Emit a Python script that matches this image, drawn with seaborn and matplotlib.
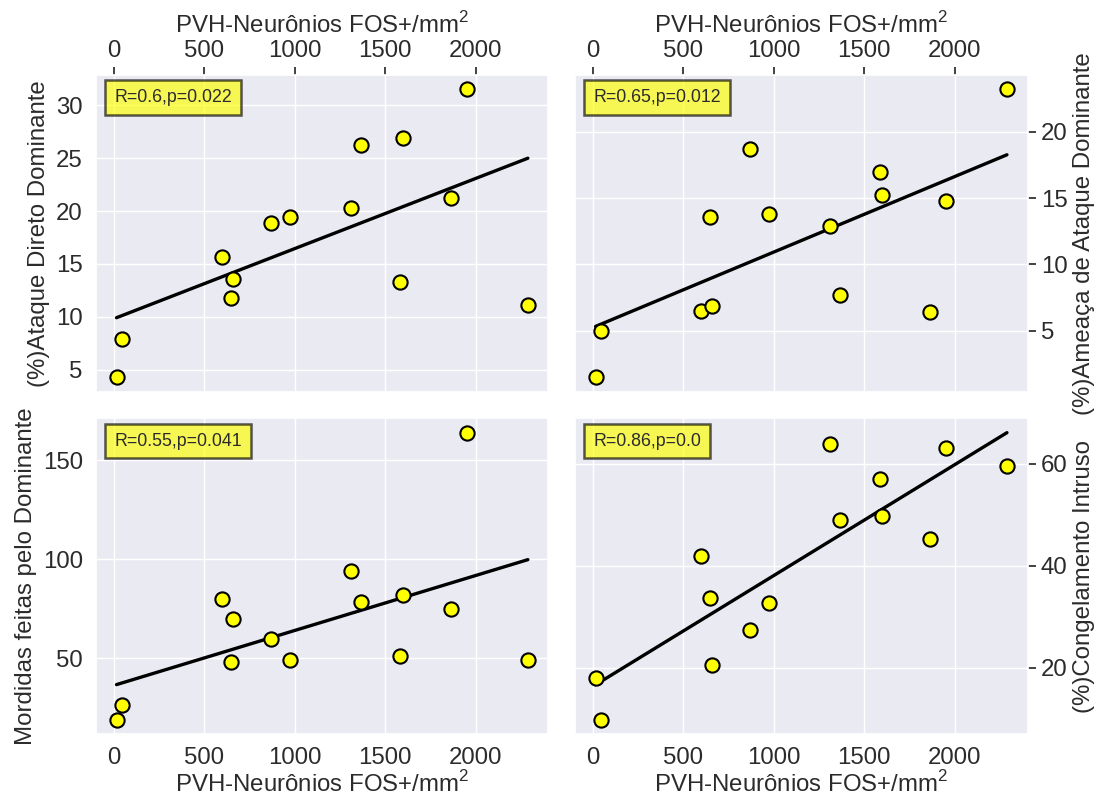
import matplotlib
matplotlib.use("Agg")
import matplotlib.pyplot as plt
import seaborn as sns
import pandas as pd

# FOS+ neuron density in the PVH (shared x for all panels)
fos_density = [15, 47, 600, 657, 648, 870, 974, 1313, 1366, 1596, 1584, 1862, 1949, 2288]

# Behavioural measures, one value per animal, same order as fos_density
ataque_direto = [4.3, 7.9, 15.7, 13.6, 11.8, 18.9, 19.4, 20.3, 26.2, 26.9, 13.3, 21.2, 31.5, 11.1]
ameaca_ataque = [1.5, 5.0, 6.5, 6.9, 13.6, 18.7, 13.8, 12.9, 7.7, 15.2, 17.0, 6.4, 14.8, 23.2]
mordidas = [18.9, 26.1, 79.9, 70.0, 48.0, 59.9, 49.0, 93.9, 78.1, 82.1, 51.0, 74.9, 163.9, 49.0]
congelamento = [17.9, 9.8, 42.0, 20.6, 33.6, 27.4, 32.7, 63.9, 49.0, 49.8, 57.0, 45.3, 63.1, 59.5]

y_labels = [
    "(%)Ataque Direto Dominante",
    "(%)Ameaça de Ataque Dominante",
    "Mordidas feitas pelo Dominante",
    "(%)Congelamento Intruso",
]
stats_text = ["R=0.6,p=0.022", "R=0.65,p=0.012", "R=0.55,p=0.041", "R=0.86,p=0.0"]
x_label = "PVH-Neurônios FOS+/mm$^2$"

sns.set_theme(style="darkgrid")
plt.rcParams["font.family"] = ["Liberation Sans", "DejaVu Sans"]
plt.rcParams["mathtext.fontset"] = "custom"
plt.rcParams["mathtext.rm"] = "Liberation Sans"

FS = 17.3
TEXT_COLOR = "#2b2b2b"

fig = plt.figure(figsize=(10.98, 7.98), dpi=100)
positions = [
    [0.0874, 0.5092, 0.4121, 0.3969],
    [0.5237, 0.5092, 0.4121, 0.3969],
    [0.0874, 0.0802, 0.4121, 0.3956],
    [0.5237, 0.0802, 0.4121, 0.3956],
]
series = [ataque_direto, ameaca_ataque, mordidas, congelamento]

for i, (pos, yvals, ylab, txt) in enumerate(zip(positions, series, y_labels, stats_text)):
    ax = fig.add_axes(pos)
    df = pd.DataFrame({"x": fos_density, "y": yvals})
    sns.regplot(
        data=df, x="x", y="y", ax=ax, ci=None,
        scatter_kws=dict(s=105, color="yellow", edgecolors="black",
                         linewidths=1.5, alpha=1, zorder=3),
        line_kws=dict(color="black", lw=2.4, zorder=2),
    )
    ax.set_xticks([0, 500, 1000, 1500, 2000])
    ax.tick_params(labelsize=FS, colors=TEXT_COLOR)
    ax.set_ylabel(ylab, fontsize=FS, color=TEXT_COLOR)
    if i < 2:
        ax.xaxis.tick_top()
        ax.xaxis.set_label_position("top")
        ax.set_xlabel(x_label, fontsize=FS, color=TEXT_COLOR, labelpad=5)
    else:
        ax.set_xlabel(x_label, fontsize=FS, color=TEXT_COLOR, labelpad=1.5)
    if i % 2 == 1:
        ax.yaxis.tick_right()
        ax.yaxis.set_label_position("right")
    ax.text(0.04, 0.928, txt, transform=ax.transAxes, ha="left", va="center",
            fontsize=12.8, color=TEXT_COLOR,
            bbox=dict(boxstyle="square,pad=0.5", facecolor="yellow",
                      edgecolor="black", alpha=0.65, linewidth=1.8))

fig.savefig("out.png", dpi=100)
